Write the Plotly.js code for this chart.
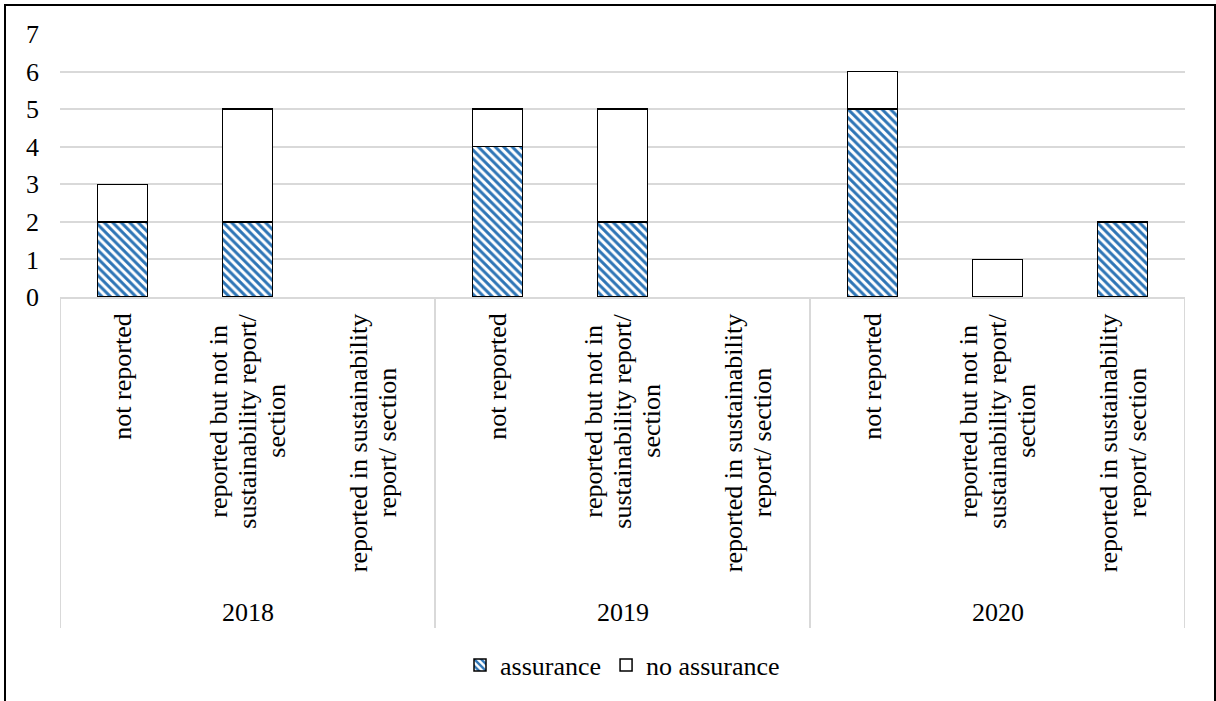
<!DOCTYPE html>
<html>
<head>
<meta charset="utf-8">
<script src="https://cdn.plot.ly/plotly-3.0.1.min.js"></script>
<style>
  html, body { margin: 0; padding: 0; background: #fff; }
  #wrap { position: relative; width: 1216px; height: 701px; overflow: hidden; }
  #chart { position: absolute; left: 0; top: 0; width: 1216px; height: 701px; }
  #frame { position: absolute; left: 4px; top: 4px; width: 1208px; height: 720px; border: 2px solid #000; pointer-events: none; }
</style>
</head>
<body>
<div id="wrap">
  <div id="chart"></div>
  <div id="frame"></div>
</div>
<script>
// ---- data ----
const years = ['2018', '2019', '2020'];
const categories = [
  'not reported',
  'reported but not in<br>sustainability report/<br>section',
  'reported in sustainability<br>report/ section'
];
const assurance   = [2, 2, 0,  4, 2, 0,  5, 0, 2];
const noAssurance = [1, 3, 0,  1, 3, 0,  1, 1, 0];
const seriesNames = ['assurance', 'no assurance'];
const yTicks = [0, 1, 2, 3, 4, 5, 6, 7];

// ---- build ----
const FONT = "'Liberation Serif', 'Times New Roman', Times, serif";
const FS = 26;
const nCat = categories.length;
const xs = [];
const catLabels = [];
years.forEach((y, g) => categories.forEach((c, i) => { xs.push(g * nCat + i); catLabels.push(c); }));
const nz = v => v.map(d => (d === 0 ? null : d));

const traces = [
  {
    type: 'bar', name: seriesNames[0], x: xs, y: nz(assurance),
    marker: {
      color: '#2E75B6',
      line: { color: '#000', width: 1.5 },
      pattern: { shape: '\\', fgcolor: '#2E75B6', bgcolor: '#ffffff', size: 6, solidity: 0.5 }
    },
    hoverinfo: 'skip'
  },
  {
    type: 'bar', name: seriesNames[1], x: xs, y: nz(noAssurance),
    marker: { color: '#ffffff', line: { color: '#000', width: 1.5 } },
    hoverinfo: 'skip'
  }
];

// measure text widths for centering rotated multi-line labels
const cv = document.createElement('canvas').getContext('2d');
cv.font = FS + "px 'Liberation Serif', serif";

const plotTop = 34, plotBottom = 297;
const paperH = plotBottom - plotTop;
const annotations = [];
xs.forEach((x, k) => {
  const lines = catLabels[k].split('<br>');
  const w = Math.max(...lines.map(l => cv.measureText(l).width));
  lines.forEach((l, i) => {
    annotations.push({
      xref: 'x', yref: 'paper', x: x, y: 0,
      text: l, showarrow: false, textangle: -90,
      xanchor: 'center', yanchor: 'middle',
      xshift: (i - (lines.length - 1) / 2) * 29,
      yshift: -(17 + w / 2),
      font: { family: FONT, size: FS, color: '#000' }
    });
  });
});
years.forEach((y, g) => {
  annotations.push({
    xref: 'x', yref: 'paper', x: g * nCat + (nCat - 1) / 2, y: 0,
    text: y, showarrow: false, xanchor: 'center', yanchor: 'middle',
    yshift: -315,
    font: { family: FONT, size: FS, color: '#000' }
  });
});

const shapes = [];
for (let g = 0; g <= years.length; g++) {
  shapes.push({
    type: 'line', xref: 'x', yref: 'paper',
    x0: g * nCat - 0.5, x1: g * nCat - 0.5,
    y0: 0, y1: -(628 - plotBottom) / paperH,
    line: { color: '#d9d9d9', width: 2 }
  });
}

const layout = {
  width: 1216, height: 701,
  margin: { l: 60, r: 31, t: plotTop, b: 701 - plotBottom, pad: 0 },
  paper_bgcolor: '#fff', plot_bgcolor: '#fff',
  barmode: 'stack', bargap: 0.6,
  showlegend: true,
  legend: {
    orientation: 'h', x: 0.5, xanchor: 'center',
    y: -(665 - plotBottom) / paperH, yanchor: 'middle',
    traceorder: 'normal',
    font: { family: FONT, size: FS, color: '#000' },
    itemwidth: 30, bgcolor: 'rgba(0,0,0,0)'
  },
  xaxis: {
    type: 'linear', range: [-0.5, xs.length - 0.5],
    showticklabels: false, ticks: '', showgrid: false,
    zeroline: false, showline: true, linecolor: '#d9d9d9', linewidth: 2,
    fixedrange: true
  },
  yaxis: {
    range: [0, 7], tickvals: yTicks, ticktext: yTicks.map(String),
    showgrid: true, gridcolor: '#d9d9d9', gridwidth: 2,
    zeroline: false, showline: false, ticks: '',
    ticklabelstandoff: 20,
    tickfont: { family: FONT, size: FS, color: '#000' },
    fixedrange: true
  },
  annotations: annotations,
  shapes: shapes,
  font: { family: FONT, size: FS, color: '#000' }
};

Plotly.newPlot('chart', traces, layout, { displayModeBar: false, staticPlot: true });
</script>
</body>
</html>
